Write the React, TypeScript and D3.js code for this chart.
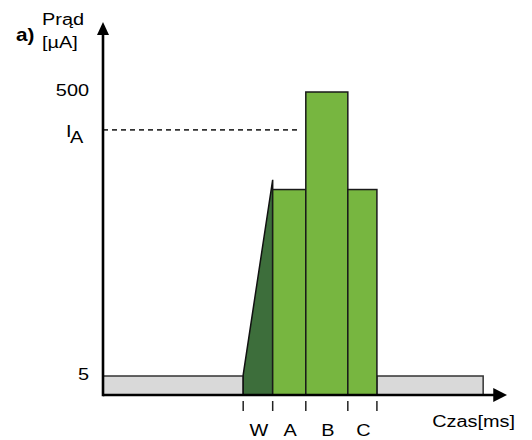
import React from "react";
import * as d3 from "d3";

// Time boundaries of phases (arbitrary units, schematic)
const phaseEdges = [34.7, 42.0, 50.2, 60.6, 67.8];
const phaseLabels = ["W", "A", "B", "C"];
const idleRight = 94.1;

// Current levels (schematic µA)
const idleLevel = 5;
const wakeStart = 7;
const wakePeak = 347;
const barLevels = [330, 500, 330];
const iALevel = 434;
const yTickValues = [5, 500];
const yTickLabels = ["5", "500"];

const W = 532, H = 440;
const SX = 1.15;

function T({ x, y, anchor = "start", size = 17.3, weight = "normal", children }: any) {
  return (
    <text transform={`translate(${x},${y}) scale(${SX},1)`} textAnchor={anchor} fontSize={size}
      fontWeight={weight} fill="#000">{children}</text>
  );
}

export default function App() {
  const x = d3.scaleLinear().domain([0, 100]).range([103, 507]);
  const y = d3.scaleLinear().domain([0, 5, 500, 620]).range([395, 376, 92, 22]);
  const y0 = y(0);

  const line = d3.line<[number, number]>().x(d => d[0]).y(d => d[1]);

  const wakePoly: [number, number][] = [
    [x(phaseEdges[0]), y0],
    [x(phaseEdges[0]), y(wakeStart)],
    [x(phaseEdges[1]), y(wakePeak)],
    [x(phaseEdges[1]), y0],
  ];

  const font = "Arial, 'Liberation Sans', sans-serif";

  return (
    <svg width={W} height={H} style={{ position: "absolute", left: 0, top: 0 }} fontFamily={font}>
      <rect width={W} height={H} fill="#fff" />
      {/* idle gray bars */}
      <rect x={x(0)} y={y(idleLevel)} width={x(phaseEdges[0]) - x(0)} height={y0 - y(idleLevel)}
        fill="#d9d9d9" stroke="#333" strokeWidth={1.5} />
      <rect x={x(phaseEdges[4])} y={y(idleLevel)} width={x(idleRight) - x(phaseEdges[4])} height={y0 - y(idleLevel)}
        fill="#d9d9d9" stroke="#333" strokeWidth={1.5} />
      {/* wake ramp */}
      <path d={line(wakePoly) + "Z"} fill="#3d6e3b" stroke="#111" strokeWidth={1.5} strokeLinejoin="miter" />
      {/* bars A B C */}
      {barLevels.map((v, i) => (
        <rect key={i} x={x(phaseEdges[i + 1])} y={y(v)} width={x(phaseEdges[i + 2]) - x(phaseEdges[i + 1])}
          height={y0 - y(v)} fill="#77b640" stroke="#1a1a1a" strokeWidth={1.5} />
      ))}
      {/* I_A dashed line */}
      <line x1={x(0)} x2={x(49)} y1={y(iALevel)} y2={y(iALevel)} stroke="#333" strokeWidth={1.6} strokeDasharray="5,4" />
      {/* axes */}
      <line x1={x(0)} x2={x(97)} y1={y0} y2={y0} stroke="#000" strokeWidth={2.5} />
      <path d={`M${x(100)},${y0} L${x(96.6)},${y0 - 7} L${x(96.6)},${y0 + 7} Z`} fill="#000" />
      <line x1={x(0)} x2={x(0)} y1={y0 + 1.2} y2={y(600)} stroke="#000" strokeWidth={2.6} />
      <path d={`M${x(0)},${y(620)} L${x(0) - 6},${y(620) + 13} L${x(0) + 6},${y(620) + 13} Z`} fill="#000" />
      {/* x ticks */}
      {phaseEdges.map((t, i) => (
        <line key={i} x1={x(t)} x2={x(t)} y1={y0 + 6} y2={y0 + 16} stroke="#222" strokeWidth={1.5} />
      ))}
      {phaseLabels.map((l, i) => (
        <T key={l} x={(x(phaseEdges[i]) + x(phaseEdges[i + 1])) / 2 + 1} y={436} anchor="middle">{l}</T>
      ))}
      <T x={515} y={427} anchor="end">Czas[ms]</T>
      {/* y labels */}
      {yTickValues.map((v, i) => (
        <T key={v} x={89} y={y(v) + 4} anchor="end">{yTickLabels[i]}</T>
      ))}
      <T x={66} y={y(iALevel) + 7}>I</T>
      <T x={70} y={y(iALevel) + 13}>A</T>
      <T x={42} y={25}>Prąd</T>
      <T x={42} y={48}>[µA]</T>
      <T x={16} y={41} size={18} weight="bold">a)</T>
    </svg>
  );
}
